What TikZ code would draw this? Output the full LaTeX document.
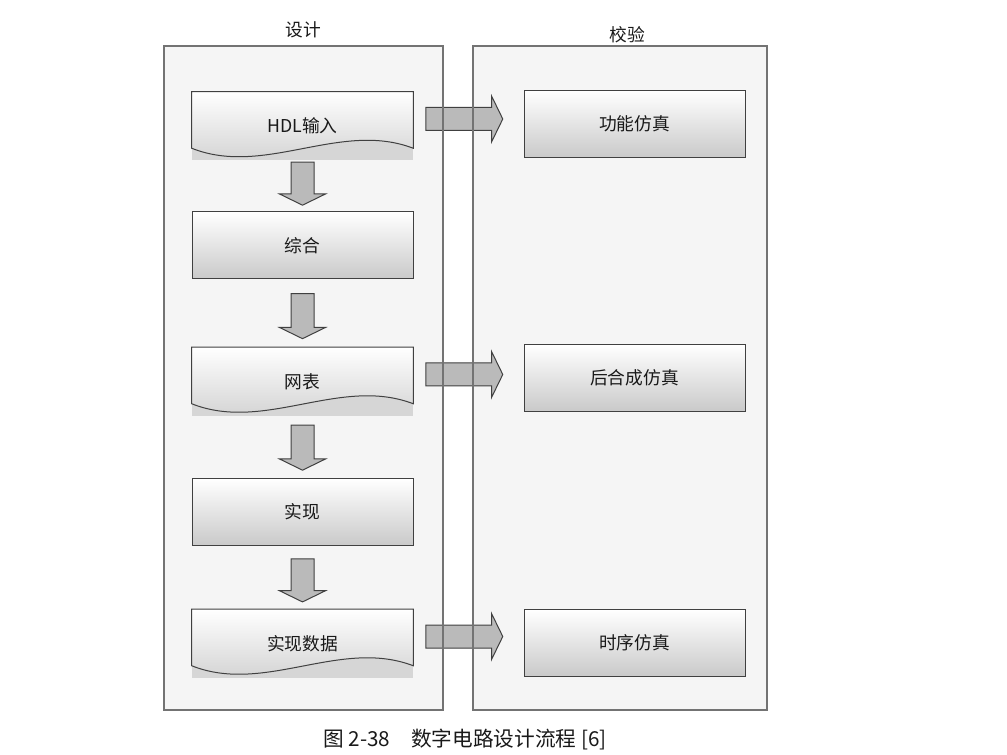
\documentclass[tikz,border=0pt]{standalone}
\usepackage{fontspec}
\setmainfont{Noto Sans CJK SC}
\usetikzlibrary{positioning}
\usetikzlibrary{calc}
\usetikzlibrary{shapes.arrows}
\pgfdeclarelayer{bg}
\pgfdeclarelayer{fg}
\pgfsetlayers{bg,main,fg}
\newcommand{\upx}{0.75pt}
\tikzset{lanefill/.style = {fill=black!4}}
\tikzset{laneline/.style = {draw=black!55, line width=1.3*\upx}}
\tikzset{boxtext/.style = {text=black!90, font=\fontsize{13.3}{15}\selectfont}}
\tikzset{flowbox/.style = {boxtext, draw=black!75, line width=\upx, top color=white,
    bottom color=black!21, minimum width=221*\upx, minimum height=67*\upx, inner sep=0}}
\tikzset{docbox/.style = {boxtext, minimum width=221*\upx, minimum height=68*\upx, inner sep=0}}
\tikzset{docline/.style = {draw=black!75, line width=\upx, top color=white, bottom color=black!21}}
\tikzset{barrow/.style = {single arrow, draw=black!75, fill=black!27, line width=\upx,
    inner sep=0, inner ysep=11*\upx, single arrow head extend=11.5*\upx,
    single arrow tip angle=128}}
\tikzset{lanehead/.style = {text=black!90, font=\fontsize{13.3}{15}\selectfont}}

\begin{document}
\begin{tikzpicture}[x=0.75pt, y=-0.75pt]
      \useasboundingbox (0,0) rectangle (1007,755);
      \node [lanehead] (tdesign) at (303,30) {设计};
      \node [lanehead] (tcheck) at (627,35) {校验};
      \node [docbox] (hdl) at (302.5,126) {HDL输入};
      \node [flowbox] (syn) at (302.5,245.5) {综合};
      \node [docbox] (net) at (302.5,381.5) {网表};
      \node [flowbox] (impl) at (302.5,512) {实现};
      \node [docbox] (impdata) at (302.5,643.5) {实现数据};
      \node [flowbox] (func) at (634.5,124) {功能仿真};
      \node [flowbox] (post) at (634.5,378) {后合成仿真};
      \node [flowbox] (timing) at (634.5,643) {时序仿真};
      \node [barrow, rotate=-90, minimum height=43*\upx] (d1) at ($(hdl.south)!0.5!(syn.north)+(0,-5)$) {};
      \node [barrow, rotate=-90, minimum height=45*\upx] (d2) at ($(syn.south)!0.5!(net.north)$) {};
      \node [barrow, rotate=-90, minimum height=45*\upx] (d3) at ($(net.south)!0.5!(impl.north)+(0,-2)$) {};
      \node [barrow, rotate=-90, minimum height=43*\upx] (d4) at ($(impl.south)!0.5!(impdata.north)$) {};
      \foreach \n in {hdl, net, impdata}
        \node [barrow, anchor=tail, minimum height=77*\upx] (r-\n) at ($(\n.east)+(12,-7)$) {};
      \begin{pgfonlayer}{bg}
        \fill [lanefill] (164,46) rectangle (443,710);
        \fill [lanefill] (473,46) rectangle (767,710);
        \foreach \n in {hdl, net, impdata} {
          \fill [black!16] (\n.north west) rectangle (\n.south east);
          \draw [docline] (\n.north west) -- (\n.north east) -- ($(\n.south east)+(0,-12)$)
            .. controls +(-73,-28) and +(73,29) .. ($(\n.south west)+(0,-12)$) -- cycle;
        }
      \end{pgfonlayer}
      \begin{pgfonlayer}{fg}
        \draw [laneline] (164,46) rectangle (443,710);
        \draw [laneline] (473,46) rectangle (767,710);
      \end{pgfonlayer}
      \node [text=black!90, font=\fontsize{15.5}{18}\selectfont] (caption) at (465,740)
        {图 2-38\quad 数字电路设计流程 [6]};
\end{tikzpicture}
\end{document}
